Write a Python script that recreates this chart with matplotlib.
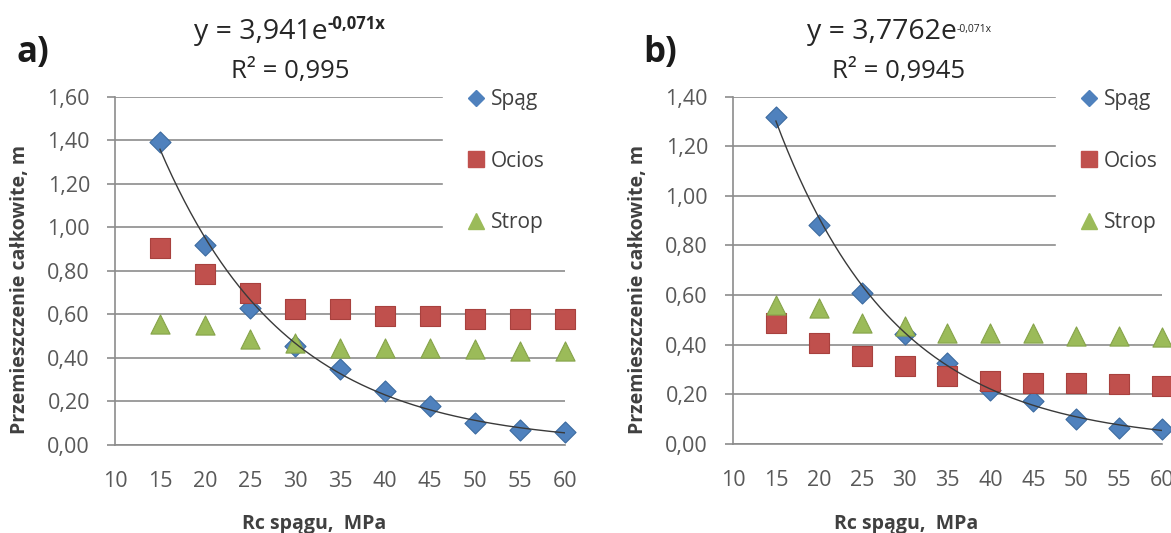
import numpy as np
import matplotlib.pyplot as plt
from matplotlib.lines import Line2D

plt.rcParams['font.family'] = ['Open Sans', 'DejaVu Sans']

# --- data ---
rc = [15, 20, 25, 30, 35, 40, 45, 50, 55, 60]

a_spag = [1.393, 0.919, 0.631, 0.455, 0.348, 0.248, 0.179, 0.102, 0.069, 0.061]
a_ocios = [0.904, 0.784, 0.700, 0.626, 0.626, 0.593, 0.593, 0.580, 0.577, 0.577]
a_strop = [0.554, 0.550, 0.486, 0.470, 0.447, 0.447, 0.447, 0.440, 0.432, 0.432]
a_fit = (3.941, -0.071)

b_spag = [1.318, 0.882, 0.609, 0.441, 0.327, 0.215, 0.172, 0.098, 0.065, 0.058]
b_ocios = [0.488, 0.407, 0.354, 0.313, 0.273, 0.253, 0.246, 0.246, 0.240, 0.233]
b_strop = [0.560, 0.548, 0.488, 0.475, 0.448, 0.448, 0.448, 0.434, 0.434, 0.430]
b_fit = (3.7762, -0.071)

x_ticks = [10, 15, 20, 25, 30, 35, 40, 45, 50, 55, 60]
a_yticks = [0.0, 0.2, 0.4, 0.6, 0.8, 1.0, 1.2, 1.4, 1.6]
a_ylabels = ['0,00', '0,20', '0,40', '0,60', '0,80', '1,00', '1,20', '1,40', '1,60']
b_yticks = [0.0, 0.2, 0.4, 0.6, 0.8, 1.0, 1.2, 1.4]
b_ylabels = ['0,00', '0,20', '0,40', '0,60', '0,80', '1,00', '1,20', '1,40']

series_names = ['Spąg', 'Ocios', 'Strop']
a_eq = ['y = 3,941e', '-0,071x', 'R² = 0,995']
b_eq = ['y = 3,7762e', '-0,071x', 'R² = 0,9945']

W, H = 1171, 533
BLUE, RED, GREEN = '#4F81BD', '#C0504D', '#9BBB59'
GRID = '#8C8C8C'


def fx(px):
    return px / W


def fy(py):
    return 1 - py / H


def equation(eq, cx, sup_size, sup_weight, sup_base):
    # main part + superscript exponent, centred as one group, then R² line
    main = fig.text(0, fy(39), eq[0], fontsize=20.5, color='#262626', va='baseline')
    sup = fig.text(0, fy(sup_base), eq[1], fontsize=sup_size, fontweight=sup_weight,
                   color='#262626', va='baseline')
    r = fig.canvas.get_renderer()
    w_main = main.get_window_extent(r).width
    w_sup = sup.get_window_extent(r).width
    x0 = cx - (w_main + w_sup) / 2
    main.set_x(fx(x0))
    sup.set_x(fx(x0 + w_main))
    fig.text(fx(cx), fy(78), eq[2], fontsize=18.5, color='#262626',
             ha='center', va='baseline')


def panel(left, right, top, bottom, spag, ocios, strop, fit, yticks, ylabels,
          leg_x, letter, letter_x, ylab_x, xlab_x):
    ax = fig.add_axes([fx(left), fy(bottom), fx(right - left), fy(top) - fy(bottom)])
    ax.scatter(rc, spag, marker='D', s=115, color=BLUE, edgecolors='#3B6AA0',
               linewidths=0.8, zorder=3, clip_on=False)
    ax.scatter(rc, ocios, marker='s', s=200, color=RED, edgecolors='#A8413E',
               linewidths=0.8, zorder=4, clip_on=False)
    ax.scatter(rc, strop, marker='^', s=190, color=GREEN, edgecolors='#86A34A',
               linewidths=0.8, zorder=5, clip_on=False)
    xs = np.linspace(rc[0], rc[-1], 200)
    ax.plot(xs, fit[0] * np.exp(fit[1] * xs), color='#3a3a3a', lw=1.0, zorder=6)

    ax.set_xlim(10, 60)
    ax.set_ylim(yticks[0], yticks[-1])
    ax.set_xticks(x_ticks)
    ax.set_yticks(yticks)
    ax.set_yticklabels(ylabels)
    ax.grid(axis='y', color=GRID, lw=1.2)
    ax.set_axisbelow(True)
    for s in ['top', 'right']:
        ax.spines[s].set_visible(False)
    for s in ['left', 'bottom']:
        ax.spines[s].set_color(GRID)
        ax.spines[s].set_linewidth(1.2)
    ax.tick_params(axis='x', length=0, pad=19, labelsize=15.5, labelcolor='#595959')
    ax.tick_params(axis='y', length=6, width=1.2, color=GRID, pad=12,
                   labelsize=15.5, labelcolor='#595959')

    handles = [
        Line2D([], [], ls='none', marker='D', ms=8, color=BLUE),
        Line2D([], [], ls='none', marker='s', ms=12, color=RED),
        Line2D([], [], ls='none', marker='^', ms=12, color=GREEN),
    ]
    leg = ax.legend(handles, series_names, loc='center left',
                    bbox_to_anchor=(fx(leg_x), fy(161)), bbox_transform=fig.transFigure,
                    frameon=True, facecolor='white', edgecolor='white', framealpha=1,
                    fancybox=False, borderpad=1.2, handlelength=0.8, handletextpad=0.3,
                    labelspacing=1.95, fontsize=15, borderaxespad=0)
    for t in leg.get_texts():
        t.set_color('#404040')

    fig.text(fx(letter_x), fy(62), letter, fontsize=25, fontweight='bold',
             color='#1a1a1a', ha='center', va='baseline')
    fig.text(fx(ylab_x), fy(289), 'Przemieszczenie całkowite, m', rotation=90,
             fontsize=14, fontweight='bold', color='#404040', ha='center', va='center')
    fig.text(fx(xlab_x), fy(529), 'Rc spągu,  MPa', fontsize=14, fontweight='bold',
             color='#404040', ha='center', va='baseline')
    return ax


fig = plt.figure(figsize=(W / 100, H / 100), dpi=100)

panel(115, 565, 96.7, 445, a_spag, a_ocios, a_strop, a_fit, a_yticks, a_ylabels,
      443, 'a)', 33, 20, 314)
panel(733, 1162, 96.7, 443.7, b_spag, b_ocios, b_strop, b_fit, b_yticks, b_ylabels,
      1056, 'b)', 660, 638, 906)

equation(a_eq, 290, 12, 'bold', 29)
equation(b_eq, 899, 7.5, 'normal', 32)

fig.savefig('out.png', dpi=100)
